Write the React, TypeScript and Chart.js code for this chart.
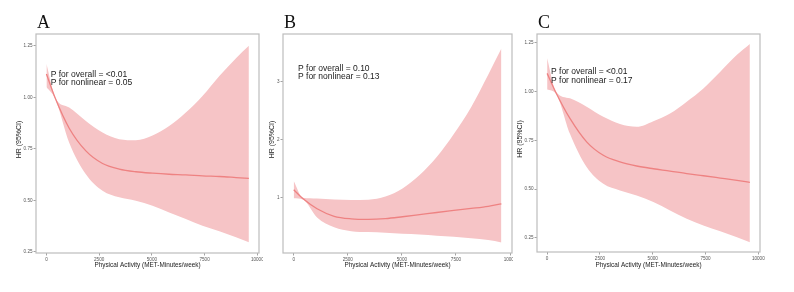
import { useEffect, useRef } from "react";
import { Chart, registerables } from "chart.js";

Chart.register(...registerables);

// Physical activity (MET-minutes/week) at which the spline estimates are listed
const metMinutes = [0, 420, 1080, 1870, 2660, 3450, 4240, 5030, 5820, 6610, 7400, 8200, 8990, 9600];

// Panel A: hazard ratio with 95% CI
const hrA = [1.113, 0.995, 0.85, 0.74, 0.679, 0.652, 0.639, 0.632, 0.627, 0.624, 0.619, 0.616, 0.611, 0.607];
const upperA = [1.163, 0.998, 0.95, 0.885, 0.829, 0.797, 0.792, 0.815, 0.861, 0.926, 1.006, 1.103, 1.19, 1.25];
const lowerA = [1.05, 0.992, 0.78, 0.627, 0.547, 0.515, 0.498, 0.474, 0.442, 0.41, 0.377, 0.35, 0.321, 0.297];

// Panel B
const hrB = [1.138, 0.985, 0.81, 0.68, 0.636, 0.627, 0.64, 0.672, 0.708, 0.745, 0.78, 0.815, 0.852, 0.895];
const upperB = [1.287, 1.0, 0.988, 0.968, 0.96, 0.965, 1.02, 1.16, 1.39, 1.7, 2.1, 2.56, 3.12, 3.57];
const lowerB = [0.99, 0.97, 0.66, 0.49, 0.424, 0.407, 0.395, 0.377, 0.366, 0.345, 0.325, 0.3, 0.27, 0.23];

// Panel C
const hrC = [1.094, 0.995, 0.863, 0.743, 0.674, 0.64, 0.619, 0.605, 0.593, 0.58, 0.569, 0.557, 0.545, 0.535];
const upperC = [1.172, 1.0, 0.966, 0.923, 0.871, 0.834, 0.82, 0.849, 0.888, 0.949, 1.017, 1.103, 1.189, 1.245];
const lowerC = [1.012, 0.99, 0.785, 0.614, 0.528, 0.494, 0.468, 0.434, 0.391, 0.348, 0.314, 0.284, 0.254, 0.228];

// Tick values
const xTicks = [0, 2500, 5000, 7500, 10000];
const yTicksAC = [0.25, 0.5, 0.75, 1.0, 1.25];
const yTicksB = [1, 2, 3];

// P-value annotations
const pOverall = ["<0.01", "0.10", "<0.01"];
const pNonlinear = ["0.05", "0.13", "0.17"];
const panelLetters = ["A", "B", "C"];

const X_TITLE = "Physical Activity (MET-Minutes/week)";
const Y_TITLE = "HR (95%CI)";

const BAND = "#F6C4C6";
const LINE = "#EE8282";
const HEIGHT = 292;

type Frame = {
  left: number;
  width: number;
  boxLeft: number;
  boxRight: number;
  boxTop: number;
  boxBottom: number;
  noteX: number;
  noteY: number;
  yTitleOffset: number;
  xMin: number;
  xMax: number;
  yMin: number;
  yMax: number;
};

type PanelSpec = {
  letter: string;
  hr: number[];
  upper: number[];
  lower: number[];
  yTicks: number[];
  yDigits: number;
  overall: string;
  nonlinear: string;
  frame: Frame;
};

const panels: PanelSpec[] = [
  {
    letter: panelLetters[0],
    hr: hrA,
    upper: upperA,
    lower: lowerA,
    yTicks: yTicksAC,
    yDigits: 2,
    overall: pOverall[0],
    nonlinear: pNonlinear[0],
    frame: {
      left: 0, width: 263, boxLeft: 36, boxRight: 259, boxTop: 34, boxBottom: 253,
      noteX: 14.7, noteY: 42.5, yTitleOffset: 17,
      xMin: -495, xMax: 10080, yMin: 0.245, yMax: 1.307,
    },
  },
  {
    letter: panelLetters[1],
    hr: hrB,
    upper: upperB,
    lower: lowerB,
    yTicks: yTicksB,
    yDigits: 0,
    overall: pOverall[1],
    nonlinear: pNonlinear[1],
    frame: {
      left: 263, width: 250, boxLeft: 20, boxRight: 249, boxTop: 34, boxBottom: 253,
      noteX: 15, noteY: 36.7, yTitleOffset: 10.7,
      xMin: -495, xMax: 10090, yMin: 0.047, yMax: 3.822,
    },
  },
  {
    letter: panelLetters[2],
    hr: hrC,
    upper: upperC,
    lower: lowerC,
    yTicks: yTicksAC,
    yDigits: 2,
    overall: pOverall[2],
    nonlinear: pNonlinear[2],
    frame: {
      left: 514, width: 280, boxLeft: 23, boxRight: 246, boxTop: 34, boxBottom: 252,
      noteX: 14, noteY: 40.3, yTitleOffset: 17,
      xMin: -480, xMax: 10080, yMin: 0.178, yMax: 1.296,
    },
  },
];

const toPoints = (ys: number[]) => metMinutes.map((x, i) => ({ x, y: ys[i] }));

// Panel frame, letter, P-value notes and axis titles
const decorPlugin = {
  id: "decor",
  afterDraw(chart: any, _args: any, opts: any) {
    const { ctx, chartArea: a } = chart;
    ctx.save();
    ctx.strokeStyle = "#bdbdbd";
    ctx.lineWidth = 1.2;
    ctx.strokeRect(a.left, a.top, a.right - a.left, a.bottom - a.top);

    ctx.fillStyle = "#111";
    ctx.textAlign = "left";
    ctx.textBaseline = "alphabetic";
    ctx.font = '18px "Liberation Serif"';
    ctx.fillText(opts.letter, a.left + 1, 28);

    ctx.fillStyle = "#1a1a1a";
    ctx.font = '8.5px "Liberation Sans"';
    ctx.fillText(`P for overall = ${opts.overall}`, a.left + opts.noteX, a.top + opts.noteY);
    ctx.fillText(`P for nonlinear = ${opts.nonlinear}`, a.left + opts.noteX, a.top + opts.noteY + 8.4);

    ctx.fillStyle = "#222";
    ctx.textAlign = "center";
    ctx.textBaseline = "middle";
    ctx.font = '6.4px "Liberation Sans"';
    ctx.fillText(X_TITLE, (a.left + a.right) / 2, 265.5);

    ctx.translate(a.left - opts.yTitleOffset, (a.top + a.bottom) / 2 - 4);
    ctx.rotate(-Math.PI / 2);
    ctx.font = '7px "Liberation Sans"';
    ctx.fillText(Y_TITLE, 0, 0);
    ctx.restore();
  },
};

function Panel({ spec }: { spec: PanelSpec }) {
  const ref = useRef<HTMLCanvasElement | null>(null);

  useEffect(() => {
    if (!ref.current) return;
    const f = spec.frame;
    const tickFont = { size: 4.6, family: '"Liberation Sans"' };
    const axisGrid = {
      display: true,
      drawOnChartArea: false,
      drawTicks: true,
      tickLength: 2.5,
      color: "#8a8a8a",
      lineWidth: 0.8,
    };
    const chart = new Chart(ref.current, {
      type: "line",
      data: {
        datasets: [
          // fitted hazard ratio, drawn on top of the band
          {
            data: toPoints(spec.hr),
            borderColor: LINE,
            borderWidth: 1.3,
            pointRadius: 0,
            fill: false,
            cubicInterpolationMode: "monotone",
            order: 0,
          },
          // lower confidence limit
          {
            data: toPoints(spec.lower),
            borderWidth: 0,
            borderColor: "rgba(0,0,0,0)",
            pointRadius: 0,
            fill: false,
            cubicInterpolationMode: "monotone",
            order: 1,
          },
          // upper confidence limit, filled down to the lower limit
          {
            data: toPoints(spec.upper),
            borderWidth: 0,
            borderColor: "rgba(0,0,0,0)",
            backgroundColor: BAND,
            pointRadius: 0,
            fill: "-1",
            cubicInterpolationMode: "monotone",
            order: 2,
          },
        ],
      },
      options: {
        animation: false,
        responsive: false,
        devicePixelRatio: 1,
        events: [],
        layout: {
          autoPadding: false,
          padding: { left: 0, top: f.boxTop, right: f.width - f.boxRight, bottom: 0 },
        },
        plugins: {
          legend: { display: false },
          tooltip: { enabled: false },
          decor: {
            letter: spec.letter,
            overall: spec.overall,
            nonlinear: spec.nonlinear,
            noteX: f.noteX,
            noteY: f.noteY,
            yTitleOffset: f.yTitleOffset,
          },
        } as any,
        scales: {
          x: {
            type: "linear",
            min: f.xMin,
            max: f.xMax,
            grid: axisGrid,
            border: { display: false },
            ticks: {
              font: tickFont,
              color: "#555",
              padding: 1,
              maxRotation: 0,
              autoSkip: false,
              callback: (v: any) => String(v),
            },
            afterBuildTicks: (s: any) => {
              s.ticks = xTicks.map((value) => ({ value }));
            },
            afterFit: (s: any) => {
              s.height = HEIGHT - f.boxBottom;
              s.paddingLeft = 0;
              s.paddingRight = 0;
            },
          },
          y: {
            type: "linear",
            min: f.yMin,
            max: f.yMax,
            grid: axisGrid,
            border: { display: false },
            ticks: {
              font: tickFont,
              color: "#555",
              padding: 1,
              autoSkip: false,
              callback: (v: any) => Number(v).toFixed(spec.yDigits),
            },
            afterBuildTicks: (s: any) => {
              s.ticks = spec.yTicks.map((value) => ({ value }));
            },
            afterFit: (s: any) => {
              s.width = f.boxLeft;
              s.paddingTop = 0;
              s.paddingBottom = 0;
            },
          },
        },
      },
      plugins: [decorPlugin],
    } as any);
    return () => chart.destroy();
  }, [spec]);

  return (
    <canvas
      ref={ref}
      width={spec.frame.width}
      height={HEIGHT}
      style={{
        position: "absolute",
        left: spec.frame.left,
        top: 0,
        width: spec.frame.width,
        height: HEIGHT,
      }}
    />
  );
}

export default function App() {
  return (
    <div
      style={{
        position: "absolute",
        left: 0,
        top: 0,
        width: 794,
        height: HEIGHT,
        background: "#fff",
        overflow: "hidden",
      }}
    >
      {panels.map((p) => (
        <Panel key={p.letter} spec={p} />
      ))}
    </div>
  );
}
